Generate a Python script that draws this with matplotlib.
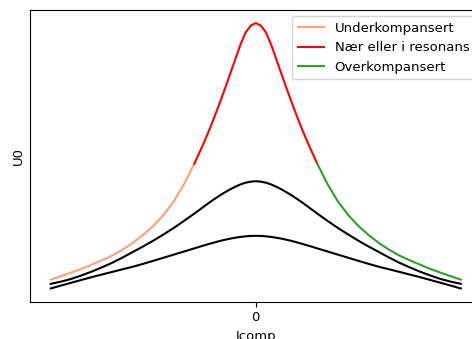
import numpy as np
import matplotlib
matplotlib.use('Agg')
import matplotlib.pyplot as plt

# Kompenseringsstrom (relativ), felles for alle kurvene
icomp = [-10, -9.5, -9, -8.5, -8, -7.5, -7, -6.5, -6, -5.5, -5, -4.5, -4, -3.5, -3,
         -2.75, -2.5, -2.25, -2, -1.75, -1.5, -1.25, -1, -0.75, -0.5, -0.25, 0,
         0.25, 0.5, 0.75, 1, 1.25, 1.5, 1.75, 2, 2.25, 2.5, 2.75,
         3, 3.5, 4, 4.5, 5, 5.5, 6, 6.5, 7, 7.5, 8, 8.5, 9, 9.5, 10]

# Nullpunktspenning U0, lav demping (fargelagt kurve)
u0_hoy = [23.5, 27, 30.5, 34.3, 38.5, 42.8, 47.5, 53.3, 60, 68, 77, 88, 101.5, 118.5, 139,
          150, 161.5, 173.5, 186.5, 200, 214, 228.5, 243, 257.5, 269.5, 276.5, 279,
          276.5, 269.5, 257.5, 243, 228.5, 214, 200, 186.5, 173.5, 161.5, 150,
          139, 118.5, 101.5, 88, 77, 68, 60, 53.3, 47.5, 42.8, 38.5, 34.3, 30.5, 27, 23.5]

# Middels demping
u0_mid = [19.3, 21.5, 24.2, 27.7, 31.5, 35.8, 40.3, 45.5, 51, 56.5, 62.3, 68.5, 75, 82, 89.3,
          93, 96.8, 100.5, 104, 107.4, 110.5, 113.4, 116, 118.3, 120, 121.1, 121.5,
          121.1, 120, 118.3, 116, 113.4, 110.5, 107.4, 104, 100.5, 96.8, 93,
          89.3, 82, 75, 68.5, 62.3, 56.5, 51, 45.5, 40.3, 35.8, 31.5, 27.7, 24.2, 21.5, 19.3]

# Hoy demping
u0_lav = [14.7, 17.6, 20.4, 23.2, 26, 28.6, 31.2, 33.8, 36.3, 39.2, 42.2, 45.3, 48.4, 51.5, 54.6,
          56.2, 57.7, 59.2, 60.6, 62, 63.2, 64.3, 65.2, 66, 66.6, 67, 67.1,
          67, 66.6, 66, 65.2, 64.3, 63.2, 62, 60.6, 59.2, 57.7, 56.2,
          54.6, 51.5, 48.4, 45.3, 42.2, 39.2, 36.3, 33.8, 31.2, 28.6, 26, 23.2, 20.4, 17.6, 14.7]

# Grenser for resonansomradet
grense = 3


def main():
	x = np.array(icomp)
	y = np.array(u0_hoy)

	fig = plt.figure(figsize=(4.72, 3.39), dpi=100)
	ax = fig.add_axes([0.0642, 0.110, 0.9555, 0.861])

	# Del opp kurven i tre omrader
	under = x <= -grense
	reson = (x >= -grense) & (x <= grense)
	over = x >= grense
	ax.plot(x[under], y[under], color='lightsalmon', label='Underkompansert')
	ax.plot(x[reson], y[reson], color='red', label='Nær eller i resonans')
	ax.plot(x[over], y[over], color='tab:green', label='Overkompansert')

	# Kurver med mer demping
	ax.plot(icomp, u0_mid, color='k')
	ax.plot(icomp, u0_lav, color='k')

	ax.set_xticks([0])
	ax.set_yticks([])
	ax.tick_params(labelsize=9.5)
	ax.set_xlabel('Icomp', fontsize=9.5)
	ax.set_ylabel('U0', fontsize=9.5)
	ax.legend(loc='upper right', fontsize=9.5)

	fig.savefig('out.png', dpi=100)


if __name__ == '__main__':
	main()
